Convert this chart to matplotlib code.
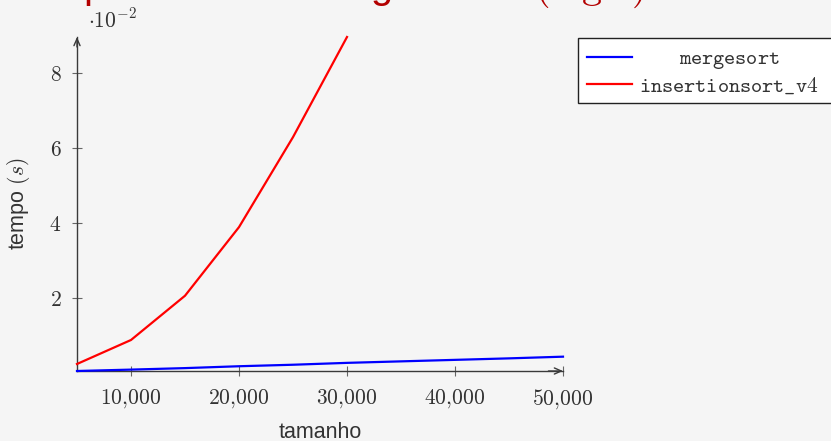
import numpy as np
import matplotlib
matplotlib.use("Agg")
import matplotlib.pyplot as plt
from matplotlib.ticker import MultipleLocator, FuncFormatter
from matplotlib.lines import Line2D
from matplotlib.patches import Rectangle

# data (tempo in seconds)
tamanho_merge = [5000, 10000, 15000, 20000, 25000, 30000, 35000, 40000, 45000, 50000]
tempo_merge = [0.00053, 0.0009, 0.0013, 0.0018, 0.0022, 0.0027, 0.0031, 0.0035, 0.0039, 0.00435]
tamanho_insertion = [5000, 10000, 15000, 20000, 25000, 30000]
tempo_insertion = [0.0024, 0.0088, 0.0206, 0.0389, 0.0629, 0.0896]

series_names = ["mergesort", "insertionsort_v4"]
series_colors = ["#0000ff", "#ff0000"]
title_text = r"Comparativo entre algoritmos $(\log n)$"

plt.rcParams["font.family"] = ["Liberation Sans", "DejaVu Sans"]
plt.rcParams["mathtext.fontset"] = "cm"

W, H = 831, 441
bg = "#f5f5f5"
axcol = "#3a3a3a"
txtcol = "#333333"


def fx(px):
    return px / W


def fy(py):
    # py measured from the top of the picture
    return 1 - py / H


fig = plt.figure(figsize=(W / 100, H / 100), dpi=100, facecolor=bg)
ax = fig.add_axes([fx(77), fy(371), fx(563) - fx(77), fy(37) - fy(371)])
ax.set_facecolor(bg)

ax.plot(tamanho_merge, tempo_merge, color=series_colors[0], lw=1.6, clip_on=False, zorder=3)
ax.plot(tamanho_insertion, tempo_insertion, color=series_colors[1], lw=1.6, clip_on=False, zorder=3)

ax.set_xlim(min(tamanho_merge), max(tamanho_merge))
ax.set_ylim(min(tempo_merge), max(tempo_insertion))

ax.xaxis.set_major_locator(MultipleLocator(10000))
ax.yaxis.set_major_locator(MultipleLocator(0.02))
ax.xaxis.set_major_formatter(FuncFormatter(lambda v, p: "$" + f"{v:,.0f}".replace(",", "{,}") + "$"))
ax.yaxis.set_major_formatter(FuncFormatter(lambda v, p: f"${v / 1e-2:g}$"))

for s in ["top", "right"]:
    ax.spines[s].set_visible(False)
for s in ["left", "bottom"]:
    ax.spines[s].set_color(axcol)
    ax.spines[s].set_linewidth(1.0)

ax.tick_params(direction="inout", length=7.5, width=0.8, color="#666666",
               labelsize=15.5, labelcolor=txtcol)
ax.tick_params(axis="x", pad=8)
ax.tick_params(axis="y", pad=7.5)

# arrow heads on the axis lines
arrow = dict(arrowstyle="->,head_length=0.5,head_width=0.22", color=axcol, lw=1.0,
             shrinkA=0, shrinkB=0)
ax.annotate("", xy=(1, 0), xytext=(0.97, 0), xycoords="axes fraction", arrowprops=arrow)
ax.annotate("", xy=(0, 1), xytext=(0, 0.97), xycoords="axes fraction", arrowprops=arrow)

# scale factor and labels
fig.text(fx(88), fy(27), r"$\cdot 10^{-2}$", fontsize=15.5, color=txtcol, va="baseline")
fig.text(fx(320), fy(438), "tamanho", fontsize=15.5, color=txtcol, ha="center", va="baseline")
fig.text(fx(19), fy(204), r"tempo $(s)$", fontsize=15.5, color=txtcol, ha="center",
         va="center", rotation=90)

# title, mostly above the top edge
fig.text(fx(322), fy(-2), title_text, fontsize=28.8, color="#b30000", ha="center", va="baseline")

# legend box with centred entries
fig.add_artist(Rectangle((fx(578), fy(103)), fx(840) - fx(578), fy(38) - fy(103),
                         transform=fig.transFigure, facecolor="white", edgecolor="#222222",
                         lw=1.0, clip_on=False))
for i, (name, col) in enumerate(zip(series_names, series_colors)):
    yy = [57, 84][i]
    fig.add_artist(Line2D([fx(587), fx(632)], [fy(yy), fy(yy)], color=col, lw=1.6,
                          transform=fig.transFigure))
    fig.text(fx(729), fy(yy), r"$\mathtt{" + name.replace("_", r"\_") + "}$",
             fontsize=15.3, color=txtcol, ha="center", va="center_baseline")

fig.savefig("out.png", dpi=100, facecolor=bg)
